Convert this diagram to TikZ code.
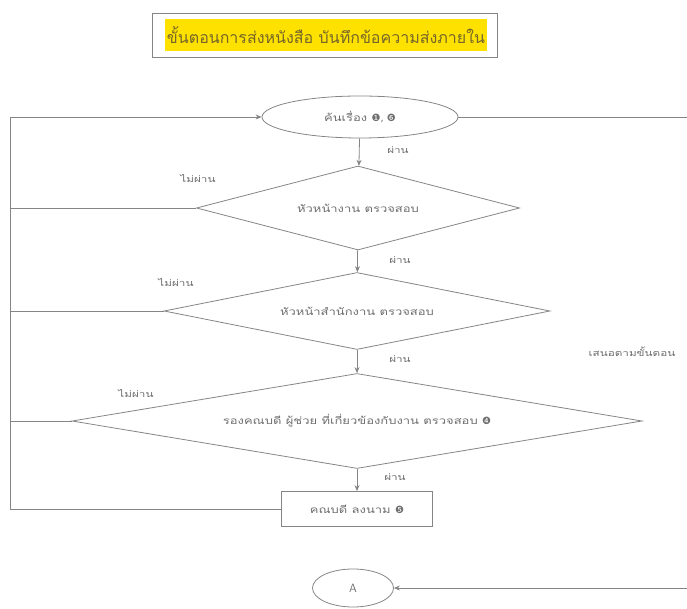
\documentclass[tikz,border=0pt]{standalone}
\usepackage{fontspec}
\setmainfont[Script=Thai]{Loma}
\newfontfamily\wide[Script=Thai,FakeStretch=1.3]{Loma}
\newfontfamily\symf{DejaVu Sans}
\usetikzlibrary{shapes.geometric,arrows.meta}
\definecolor{ln}{HTML}{858585}
\definecolor{tx}{HTML}{6E6E6E}
\definecolor{hl}{HTML}{FFE100}
\definecolor{tt}{HTML}{74662A}
\tikzset{
  flow/.style={draw=ln,line width=0.8pt},
  arr/.style={flow,-{Stealth[length=6pt,width=5pt]}},
  dia/.style={diamond,draw=ln,line width=0.8pt,inner sep=0pt,aspect=4,text=tx,font=\wide\fontsize{10}{12}\selectfont},
  lbl/.style={text=tx,font=\wide\fontsize{9}{10}\selectfont,inner sep=0pt},
  term/.style={ellipse,draw=ln,line width=0.8pt,inner sep=0pt,text=tx,font=\wide\fontsize{10}{12}\selectfont},
}
\newcommand{\cn}[1]{{\symf\fontsize{10}{12}\selectfont #1}}
\begin{document}
\begin{tikzpicture}[x=1pt,y=-1pt]
\useasboundingbox (0,0) rectangle (687,609);
% title
\node[draw=ln,line width=0.6pt,minimum width=345pt,minimum height=44pt,inner sep=0pt] (tbox) at (325,35) {};
\node[fill=hl,minimum width=322pt,minimum height=32pt,inner sep=0pt,text=tt,font=\fontsize{16}{18}\selectfont] (title) at (326,35) {ขั้นตอนการส่งหนังสือ บันทึกข้อความส่งภายใน};
% nodes
\node[term,minimum width=196pt,minimum height=42pt] (start) at (360,117) {ค้นเรื่อง \cn{❶, ❻}};
\node[dia,minimum width=323pt,minimum height=84pt] (d1) at (358,208) {หัวหน้างาน ตรวจสอบ};
\node[dia,minimum width=386pt,minimum height=77pt] (d2) at (357,311) {หัวหน้าสำนักงาน ตรวจสอบ};
\node[dia,minimum width=570pt,minimum height=95pt] (d3) at (357,421) {รองคณบดี ผู้ช่วย ที่เกี่ยวข้องกับงาน ตรวจสอบ \cn{❹}};
\node[draw=ln,line width=0.8pt,minimum width=151pt,minimum height=35pt,inner sep=0pt,text=tx,font=\wide\fontsize{10}{12}\selectfont] (sign) at (357,509) {คณบดี ลงนาม \cn{❺}};
\node[term,minimum width=81pt,minimum height=38pt,font=\sffamily\fontsize{12}{14}\selectfont] (A) at (353,588) {A};
% side coordinates
\coordinate (LB) at (10,509);
\coordinate (LT) at (10,117);
\coordinate (RT) at (687,117);
\coordinate (RB) at (687,588);
% main flow
\draw[arr] (start) -- (d1);
\draw[arr] (d1) -- (d2);
\draw[arr] (d2) -- (d3);
\draw[arr] (d3) -- (sign);
% reject loop
\draw[flow] (sign.west) -- (LB) -- (LT);
\draw[arr] (LT) -- (start.west);
\draw[flow] (d1.west) -- (d1.west -| LB);
\draw[flow] (d2.west) -- (d2.west -| LB);
\draw[flow] (d3.west) -- (d3.west -| LB);
% right side
\draw[flow] (start.east) -- (RT);
\draw[arr] (RB) -- (A.east);
% labels
\node[lbl] (p1) at (398,150) {ผ่าน};
\node[lbl] (p2) at (400,260) {ผ่าน};
\node[lbl] (p3) at (400,359) {ผ่าน};
\node[lbl] (p4) at (395,477) {ผ่าน};
\node[lbl] (f1) at (198,178) {ไม่ผ่าน};
\node[lbl] (f2) at (176,282) {ไม่ผ่าน};
\node[lbl] (f3) at (136,393) {ไม่ผ่าน};
\node[lbl] (prop) at (632,352) {เสนอตามขั้นตอน};
\end{tikzpicture}
\end{document}
